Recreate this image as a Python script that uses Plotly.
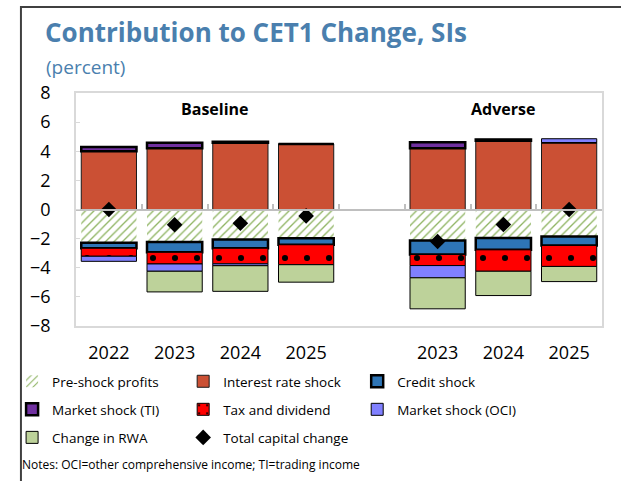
import plotly.graph_objects as go

# ---- data -------------------------------------------------------------
scenarios = ["Baseline", "Adverse"]
baseline_years = ["2022", "2023", "2024", "2025"]
adverse_years = ["2023", "2024", "2025"]

# percentage-point contributions to CET1 change, bars in order:
# Baseline 2022-2025, then Adverse 2023-2025
pre_shock_profits = [-2.29, -2.24, -2.06, -1.97, -2.13, -1.95, -1.85]
interest_rate_shock = [4.00, 4.20, 4.58, 4.50, 4.21, 4.72, 4.60]
credit_shock = [-0.37, -0.70, -0.60, -0.45, -0.96, -0.82, -0.62]
market_shock_ti = [0.30, 0.38, 0.08, 0.00, 0.40, 0.09, 0.00]
tax_and_dividend = [-0.55, -0.80, -1.07, -1.37, -0.76, -1.47, -1.44]
market_shock_oci = [-0.35, -0.50, -0.13, 0.00, -0.84, 0.00, 0.26]
change_in_rwa = [0.00, -1.42, -1.76, -1.20, -2.13, -1.67, -1.04]
total_capital_change = [0.00, -1.05, -0.94, -0.44, -2.20, -1.03, 0.00]

y_ticks = [-8, -6, -4, -2, 0, 2, 4, 6, 8]

# bar positions: baseline group, one empty slot, adverse group
x_pos = list(range(len(baseline_years))) + [
    len(baseline_years) + 1 + i for i in range(len(adverse_years))
]
x_labels = baseline_years + adverse_years

FONT = "Open Sans"
TITLE_BLUE = "#4a7fae"

# ---- figure geometry (pixels) -----------------------------------------
W, H = 621, 481
L, R, T, B = 67, 19, 93, 155
PW, PH = W - L - R, H - T - B


def px_x(px):
    return (px - L) / PW


def px_y(py):
    return (H - B - py) / PH


fig = go.Figure()

series = [
    ("Pre-shock profits", pre_shock_profits, dict(
        color="white", line=dict(width=0),
        pattern=dict(shape="/", fgcolor="#8db360", bgcolor="white",
                     size=6, solidity=0.22, fillmode="replace")), "legend"),
    ("Interest rate shock", interest_rate_shock, dict(
        color="#cb5034", line=dict(color="#1a1a1a", width=1)), "legend2"),
    ("Credit shock", credit_shock, dict(
        color="#2e75b6", line=dict(color="black", width=2.5)), "legend3"),
    ("Market shock (TI)", market_shock_ti, dict(
        color="#7030a0", line=dict(color="black", width=2.5)), "legend"),
    ("Tax and dividend", tax_and_dividend, dict(
        color="#ff0000", line=dict(color="black", width=1),
        pattern=dict(shape=".", fgcolor="black", bgcolor="#ff0000",
                     size=22, solidity=0.06, fillmode="replace")), "legend2"),
    ("Market shock (OCI)", market_shock_oci, dict(
        color="#8080ff", line=dict(color="black", width=1)), "legend3"),
    ("Change in RWA", change_in_rwa, dict(
        color="#bdd29a", line=dict(color="black", width=1)), "legend"),
]

for name, vals, marker, leg in series:
    fig.add_trace(go.Bar(
        x=x_pos, y=vals, name=name, marker=marker, legend=leg,
        legendgroup=name, width=0.84,
    ))

fig.add_trace(go.Scatter(
    x=x_pos, y=total_capital_change, name="Total capital change",
    mode="markers", legend="legend2", legendgroup="total",
    marker=dict(symbol="diamond", size=12, color="black",
                line=dict(width=0)),
))

# zero line with category-boundary ticks
fig.add_trace(go.Scatter(x=[None], y=[None], xaxis="x2", showlegend=False))

leg_common = dict(
    orientation="v", bgcolor="rgba(0,0,0,0)", borderwidth=0,
    font=dict(family=FONT, size=13.5, color="black"),
    tracegroupgap=7.5, yanchor="top", xanchor="left",
    traceorder="grouped",
)
leg_top = px_y(366)

fig.update_layout(
    width=W, height=H,
    margin=dict(l=L, r=R, t=T, b=B),
    paper_bgcolor="white", plot_bgcolor="white",
    barmode="relative",
    font=dict(family=FONT, color="black"),
    title=dict(
        text="<b>Contribution to CET1 Change, SIs</b>",
        font=dict(family=FONT, size=26, color=TITLE_BLUE),
        x=45 / W, xanchor="left", xref="container",
        y=1 - 33 / H, yanchor="middle", yref="container",
    ),
    xaxis=dict(
        range=[-0.5, x_pos[-1] + 0.5],
        tickvals=x_pos, ticktext=x_labels,
        tickfont=dict(family=FONT, size=18, color="black"),
        ticks="", ticklabelstandoff=10,
        showgrid=False, zeroline=False,
        showline=True, linecolor="#d9d9d9", linewidth=1.5, mirror=True,
    ),
    xaxis2=dict(
        overlaying="x", anchor="free", position=0.5, side="bottom",
        range=[-0.5, x_pos[-1] + 0.5],
        tickvals=[p + 0.5 for p in range(x_pos[-1])],
        ticks="inside", ticklen=5, tickcolor="#bfbfbf", tickwidth=1.5,
        showticklabels=False, showgrid=False, zeroline=False,
        showline=True, linecolor="#bfbfbf", linewidth=2,
    ),
    yaxis=dict(
        range=[-8, 8], tickvals=y_ticks,
        tickfont=dict(family=FONT, size=18, color="black"),
        ticks="inside", ticklen=4, tickcolor="#d9d9d9",
        ticklabelstandoff=20,
        showgrid=False, zeroline=False,
        showline=True, linecolor="#d9d9d9", linewidth=1.5, mirror=True,
    ),
    legend=dict(leg_common, x=px_x(2), y=leg_top),
    legend2=dict(leg_common, x=px_x(176), y=leg_top),
    legend3=dict(leg_common, x=px_x(353), y=leg_top),
    annotations=[
        dict(text="(percent)", xref="paper", yref="paper",
             x=px_x(34), y=px_y(67), xanchor="left", yanchor="middle",
             showarrow=False,
             font=dict(family=FONT, size=19, color=TITLE_BLUE)),
        dict(text="<b>Baseline</b>", xref="x", yref="y",
             x=(x_pos[0] + x_pos[len(baseline_years) - 1]) / 2 + 0.12, y=6.9,
             showarrow=False, font=dict(family=FONT, size=16, color="black")),
        dict(text="<b>Adverse</b>", xref="x", yref="y",
             x=x_pos[len(baseline_years) + 1], y=6.9,
             showarrow=False, font=dict(family=FONT, size=16, color="black")),
        dict(text="Notes: OCI=other comprehensive income; TI=trading income",
             xref="paper", yref="paper", x=px_x(10), y=px_y(465),
             xanchor="left", yanchor="middle", showarrow=False,
             font=dict(family=FONT, size=12, color="black")),
    ],
    shapes=[
        dict(type="line", xref="paper", yref="paper",
             x0=px_x(11), x1=px_x(W + 2), y0=px_y(7), y1=px_y(7),
             line=dict(color="#404040", width=2)),
        dict(type="line", xref="paper", yref="paper",
             x0=px_x(11), x1=px_x(11), y0=px_y(6), y1=px_y(H + 2),
             line=dict(color="#404040", width=2)),
    ],
)

fig.write_html("out.html")
